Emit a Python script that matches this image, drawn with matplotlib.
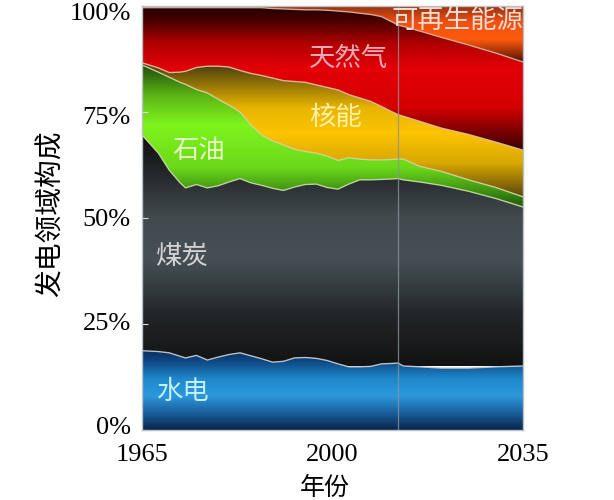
import numpy as np
import matplotlib
matplotlib.use('Agg')
import matplotlib.pyplot as plt
import matplotlib.transforms as mtransforms
from matplotlib.colors import LinearSegmentedColormap

cjk = ['Noto Sans CJK SC', 'DejaVu Sans']
serif = 'Liberation Serif'

years = [1965, 1968, 1970, 1972, 1973, 1975, 1977, 1979, 1981, 1983, 1985,
         1987, 1989, 1991, 1993, 1995, 1997, 1999, 2001, 2003, 2005, 2007,
         2009, 2011, 2012, 2013, 2016, 2020, 2025, 2030, 2035]

# shares of power generation, percent
hydro = [18.7, 18.5, 18.2, 17.4, 17.0, 17.6, 16.5, 17.2, 17.8, 18.2, 17.5,
         16.8, 16.0, 16.2, 17.0, 17.1, 16.9, 16.4, 15.6, 14.9, 14.9, 15.0,
         15.6, 15.7, 15.8, 15.1, 14.9, 14.6, 14.6, 14.9, 15.1]
coal = [50.9, 46.8, 43.1, 40.9, 40.1, 40.3, 40.6, 40.4, 40.7, 41.1, 40.8,
        40.9, 41.0, 40.3, 40.3, 40.8, 41.1, 40.8, 41.2, 43.1, 44.1, 44.0,
        43.5, 43.5, 43.5, 43.9, 43.6, 43.1, 41.7, 39.7, 37.5]
oil = [16.5, 19.1, 21.9, 23.7, 24.4, 22.4, 22.4, 20.4, 18.1, 15.7, 13.7,
       11.8, 11.2, 10.7, 8.9, 7.8, 7.3, 7.4, 6.8, 6.2, 4.9, 4.7,
       4.6, 4.6, 4.6, 4.9, 3.7, 3.3, 2.7, 2.6, 2.4]
nuclear = [0.5, 1.0, 1.1, 2.4, 3.1, 5.2, 6.3, 7.8, 9.0, 9.8, 12.1,
           14.1, 14.8, 15.2, 16.0, 16.3, 16.1, 16.2, 16.6, 14.9, 14.4, 13.8,
           12.6, 11.2, 10.5, 10.1, 10.6, 10.2, 10.7, 10.7, 11.0]
gas = [13.0, 14.2, 15.3, 15.2, 15.0, 14.1, 13.8, 13.8, 14.0, 14.8, 15.5,
       16.0, 16.4, 16.9, 17.0, 17.1, 17.7, 18.2, 18.6, 19.5, 20.0, 20.5,
       21.2, 21.2, 21.1, 21.2, 21.3, 21.4, 21.1, 21.0, 20.8]
renew = [0.4, 0.4, 0.4, 0.4, 0.4, 0.4, 0.4, 0.4, 0.4, 0.4, 0.4,
         0.4, 0.6, 0.7, 0.8, 0.9, 0.9, 1.0, 1.2, 1.4, 1.7, 2.0,
         2.5, 3.8, 4.5, 4.8, 5.9, 7.4, 9.2, 11.1, 13.2]

names = ['水电', '煤炭', '石油', '核能', '天然气', '可再生能源']
yticks = [0, 25, 50, 75, 100]
yticklabels = ['0%', '25%', '50%', '75%', '100%']
xticks = [1965, 2000, 2035]

# vertical gradients (percent position, colour) per layer
grads = [
    [(0, '#0a2548'), (4, '#1a5e9c'), (8, '#2c98dc'), (12, '#2088cc'), (16, '#0f4a86'), (19, '#0a2c58')],
    [(15, '#121212'), (27, '#222628'), (40, '#465054'), (50, '#424a4e'), (60, '#24292b'), (70, '#0e0e0e')],
    [(52, '#1c4a0a'), (56, '#3a8c12'), (62, '#6cd81a'), (72, '#7df51c'), (79, '#5cb416'), (84, '#2f6a10'), (87, '#1a3a0c')],
    [(54, '#4a3c0c'), (58, '#8a6c08'), (63, '#d8a800'), (70, '#fcc400'), (76, '#e8b400'), (81, '#9c7a08'), (87, '#3c3410')],
    [(65, '#280000'), (70, '#780000'), (76, '#d40000'), (85, '#e40008'), (91, '#b00000'), (96, '#500000'), (100, '#1a0000')],
    [(86, '#2a0800'), (89, '#a03008'), (92, '#ff5a0c'), (96, '#f05010'), (100, '#903010')],
]
edge_cols = ['#c8ccd0', '#c8d8a0', '#d8d0a0', '#e0c0a0', '#d8b0a0']
label_pos = {
    '可再生能源': (2023.0, 96.6, '#f4dcd4'),
    '天然气': (2002.9, 87.7, '#f4a8b8'),
    '核能': (2000.5, 73.8, '#fff2a8'),
    '石油': (1975.5, 66.0, '#e4f8c8'),
    '煤炭': (1972.3, 41.0, '#d4d4d4'),
    '水电': (1972.5, 9.0, '#c4f0ff'),
}

fig = plt.figure(figsize=(6.14, 5.0), dpi=100)
ax = fig.add_axes([0.2313, 0.14, 0.6205, 0.848])

series = [hydro, coal, oil, nuclear, gas, renew]
polys = ax.stackplot(years, *series, colors=['none'] * 6, edgecolor='none')

for poly, g in zip(polys, grads):
    lo, hi = g[0][0], g[-1][0]
    cmap = LinearSegmentedColormap.from_list(
        'g', [((p - lo) / (hi - lo), c) for p, c in g])
    img = np.linspace(0, 1, 256).reshape(-1, 1)
    im = ax.imshow(img, cmap=cmap, origin='lower', aspect='auto',
                   extent=[years[0], years[-1], lo, hi], interpolation='bilinear')
    im.set_clip_path(poly.get_paths()[0], transform=ax.transData)

tops = np.cumsum(np.array(series), axis=0)
for top, c in zip(tops[:-1], edge_cols):
    ax.plot(years, top, color=c, lw=1.0, alpha=0.9)

ax.axvline(2012, color='#8a9498', lw=0.9, alpha=0.8)

ax.set_xlim(1965, 2035)
ax.set_ylim(0, 100)

for s in names:
    x, y, c = label_pos[s]
    ax.text(x, y, s, color=c, fontsize=19, family=cjk, ha='center', va='center')

ax.set_yticks(yticks)
ax.set_yticklabels(yticklabels, fontsize=19, family=serif)
ax.set_xticks(xticks)
ax.set_xticklabels([str(v) for v in xticks], fontsize=19, family=serif)
ax.tick_params(axis='y', direction='in', length=4, color='#dddddd', pad=8)
ax.tick_params(axis='x', length=0, pad=10)

# the y labels sit slightly nearer the middle than their ticks
for lab, dy in zip(ax.get_yticklabels(), [5, 2, 0, -3, -6]):
    lab.set_transform(lab.get_transform() +
                      mtransforms.ScaledTranslation(0, dy / 100, fig.dpi_scale_trans))

ax.set_ylabel('发电领域构成', fontsize=20, family=cjk)
ax.set_xlabel('年份', fontsize=18, family=cjk)
ax.yaxis.set_label_coords(-0.2, 0.51)
ax.xaxis.set_label_coords(0.48, -0.105)

for sp in ax.spines.values():
    sp.set_color('#b8c0c8')
    sp.set_linewidth(1.0)

fig.savefig('out.png', dpi=100)
